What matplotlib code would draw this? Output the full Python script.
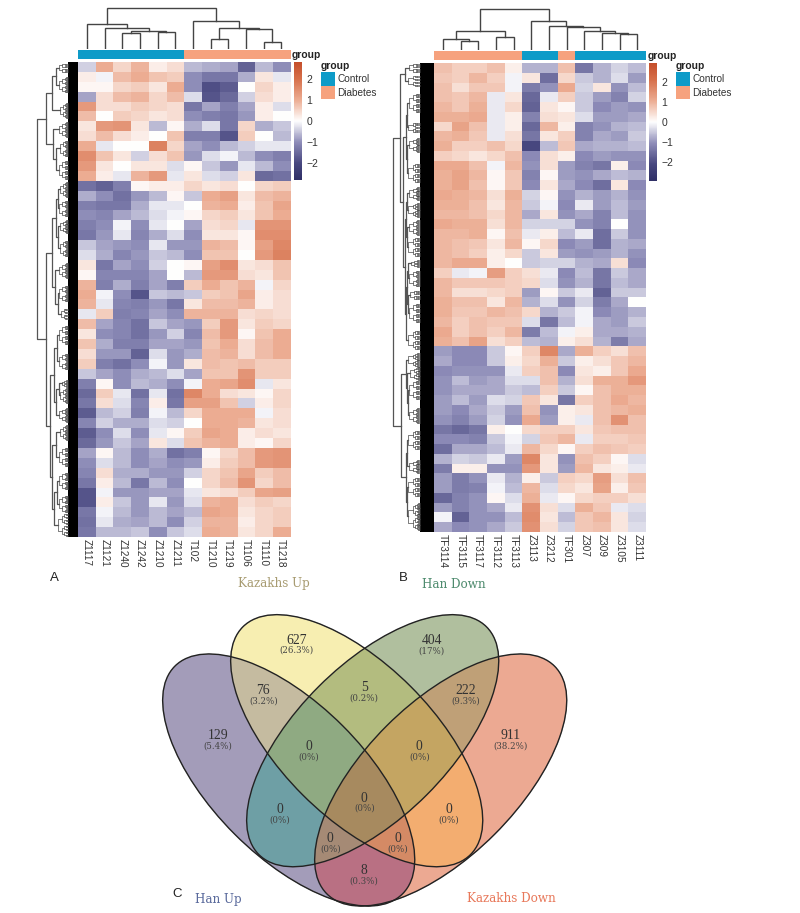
import numpy as np
import matplotlib
matplotlib.use('Agg')
from matplotlib import pyplot as plt
from matplotlib.colors import LinearSegmentedColormap, ListedColormap
from matplotlib.patches import Ellipse, Rectangle

W, H = 800, 913

samples_a = ['Z1117', 'Z1121', 'Z1240', 'Z1242', 'Z1210', 'Z1211',
             'T102', 'T1210', 'T1219', 'T1106', 'T1110', 'T1218']
samples_b = ['TF3114', 'TF3115', 'TF3117', 'TF3112', 'TF3113', 'Z3113',
             'Z3212', 'TF301', 'Z307', 'Z309', 'Z3105', 'Z3111']
# 0 = Control, 1 = Diabetes
groups_a = [0, 0, 0, 0, 0, 0, 1, 1, 1, 1, 1, 1]
groups_b = [1, 1, 1, 1, 1, 0, 0, 1, 0, 0, 0, 0]
group_names = ['Control', 'Diabetes']
group_colors = ['#0E9BC8', '#F6A27E']
cbar_ticks = [2, 1, 0, -1, -2]

heat_a = [
    [-0.4, 1.0, 0.5, 0.9, 0.2, 0.4, -0.6, -0.7, -0.8, -1.6, -0.6, -1.0],
    [0.2, -0.1, 0.8, 1.0, 0.7, 0.6, -1.0, -1.3, -1.3, -0.7, 0.3, -0.2],
    [0.1, 0.1, 0.5, 0.6, 0.3, 1.0, -1.0, -1.9, -1.7, 0.0, 0.5, 0.2],
    [-0.8, 0.4, 0.8, 0.9, 0.5, 0.8, -0.3, -1.8, -1.5, -0.4, 0.4, 0.2],
    [1.3, 0.4, 0.4, 0.6, 0.5, 0.4, -1.3, -0.8, -1.2, -0.8, 0.2, -0.3],
    [0.8, 0.0, 0.6, 0.5, 0.3, 0.4, -1.0, -1.2, -1.3, -0.9, 0.2, 0.0],
    [0.3, 1.3, 1.4, 0.3, -0.6, 0.1, -0.7, -0.3, -1.3, 0.5, -0.7, -0.5],
    [0.4, 0.8, 0.4, 0.2, 0.0, 0.7, -1.2, -1.2, -1.8, 0.6, 0.0, -0.6],
    [1.0, -0.2, 0.0, 0.0, 1.7, 0.5, -0.8, -1.0, -0.6, -0.4, -0.2, -0.2],
    [1.5, 0.7, 0.3, -0.4, 0.4, 0.7, -0.9, -0.3, -0.1, -0.6, -1.0, -1.2],
    [1.3, 0.3, 0.0, 0.3, 0.3, -0.3, 0.1, -0.5, -0.9, -0.2, -0.6, -1.0],
    [1.0, 0.2, -0.2, 0.9, 1.3, -0.2, 0.3, -0.3, -0.4, 0.3, -1.5, -1.4],
    [-1.4, -1.6, -1.2, 0.1, 0.2, 0.2, 0.5, 0.3, 0.4, 0.0, 0.5, 0.6],
    [-0.7, -1.0, -1.4, -0.9, -0.6, 0.1, -0.5, 1.0, 1.2, 0.3, 0.8, 0.9],
    [-1.2, -1.3, -1.3, -0.7, -0.2, -0.2, 0.0, 0.9, 1.0, 0.2, 0.7, 1.1],
    [-1.0, -1.1, -0.8, -0.6, -0.3, -0.1, 0.1, 0.5, 0.6, 0.3, 0.7, 1.0],
    [-1.2, -1.0, -0.1, -1.0, -0.2, 0.0, -0.8, 0.4, 0.5, -0.2, 1.4, 1.4],
    [-1.3, -0.9, -0.2, -1.1, -0.7, -0.3, -1.0, 0.3, 0.3, 0.1, 1.5, 1.5],
    [-0.5, -0.8, -0.9, -1.0, -0.2, -0.9, -0.9, 0.9, 0.8, 0.1, 1.2, 1.6],
    [-0.3, -0.7, -1.1, -0.9, -0.5, -0.6, -1.0, 0.7, 0.7, 0.0, 1.3, 1.7],
    [0.3, -1.3, -0.8, -1.0, -0.4, 0.0, 0.1, 1.2, 1.5, 0.3, 0.4, 0.7],
    [0.1, -1.1, -1.1, -1.1, -0.8, 0.0, -0.6, 1.3, 1.3, 0.4, 0.3, 0.7],
    [0.9, -1.2, -0.7, -1.2, -0.8, -1.2, 0.6, 1.0, 0.7, 0.9, -0.1, 0.5],
    [1.0, -0.1, -1.0, -1.8, -0.5, -0.6, -0.5, 0.6, 0.7, 1.1, 0.2, 0.4],
    [0.9, -0.2, -1.1, -1.2, -0.9, -1.3, 0.3, 0.8, 0.8, 0.9, 0.2, 0.4],
    [-0.2, 0.6, -1.2, -1.1, -0.8, -1.0, 0.9, 0.9, 0.9, 0.4, 0.5, 0.4],
    [0.8, -0.8, -1.1, -1.4, -0.5, -0.8, -0.9, 0.6, 1.3, 0.3, 0.6, 0.5],
    [0.3, -1.0, -1.1, -1.4, -0.9, -0.4, -1.1, 0.8, 1.3, 0.1, 0.7, 1.0],
    [0.7, -0.7, -1.2, -1.2, -0.8, -0.8, -0.9, 0.7, 1.0, 0.4, 0.8, 1.0],
    [0.4, -0.9, -0.9, -1.6, -0.3, -0.9, -0.7, 0.8, 0.9, 0.4, 0.8, 1.0],
    [0.6, -1.2, -1.4, -1.0, -0.1, -0.9, 0.3, 0.8, 0.7, 0.8, 0.6, 0.6],
    [-0.5, -0.8, -1.0, -0.7, -0.6, -0.3, -0.8, 0.7, 0.7, 1.4, 0.6, 0.6],
    [-1.2, 0.1, -1.0, -0.6, -0.7, -1.0, -0.1, 1.0, 1.1, 1.5, -0.2, 0.3],
    [-1.5, 0.6, -0.2, -1.4, -0.2, -1.4, 1.6, 1.0, 0.4, 0.3, 0.1, 0.5],
    [-1.3, 0.4, -0.3, -1.1, 0.2, -1.3, 1.2, 1.2, 0.7, -0.4, 0.2, 0.5],
    [-1.7, -0.6, -0.4, -1.2, -0.1, -0.6, 0.5, 1.0, 1.0, 1.0, -0.1, 0.4],
    [-1.1, -0.4, -0.7, -0.7, -0.3, -0.4, 0.0, 1.0, 1.0, 0.9, 0.3, 0.4],
    [-1.7, -1.0, -0.3, -1.0, -0.2, 0.1, 0.6, 1.1, 1.0, 0.2, 0.4, 0.3],
    [-1.5, -0.9, -0.5, -0.8, 0.3, -0.3, 0.7, 0.9, 1.0, 0.2, 0.1, 0.5],
    [-0.8, 0.1, -0.6, -1.0, -0.7, -1.4, -1.2, 0.1, 0.5, 0.8, 1.3, 1.4],
    [-1.0, -0.3, -0.6, -1.0, -0.8, -1.0, -0.9, 0.2, 0.6, 0.8, 1.3, 1.4],
    [-1.1, 0.4, -0.7, -0.7, -0.9, -0.9, -0.4, 0.5, 0.7, 1.1, 0.6, 0.8],
    [-1.3, 0.2, -0.6, -1.3, -0.6, -1.0, 0.0, 0.5, 0.8, 1.4, 0.5, 0.8],
    [-1.8, -0.1, -0.9, -0.9, -0.8, -0.8, -0.2, 0.3, 0.4, 0.6, 1.1, 1.2],
    [-1.8, 0.2, -0.5, -0.9, -0.2, -0.9, -0.3, 0.9, 1.0, 0.4, 0.6, 0.5],
    [-1.3, -0.1, -0.6, -0.9, -0.6, -0.8, -0.6, 1.1, 1.0, 0.3, 0.5, 0.6],
    [-1.4, -0.2, -0.7, -0.8, -0.6, -1.0, -0.4, 0.9, 0.9, 0.2, 0.5, 0.6],
    [-1.3, -0.6, -0.6, -0.5, -1.0, -0.5, -0.3, 1.0, 0.9, 0.3, 0.5, 1.0],
]

heat_b = [
    [0.8, 0.6, 0.6, 0.8, 0.2, -0.7, -0.7, 0.8, -1.4, -0.7, -0.4, -0.6],
    [0.7, 0.6, 0.9, 0.6, -0.1, 0.3, -1.5, 0.5, -0.5, -0.7, -0.3, -0.9],
    [0.8, 0.4, 0.7, 0.7, -0.1, -1.3, -1.0, 1.1, -0.4, 0.3, -1.0, -0.6],
    [0.8, 0.7, 0.9, -0.2, 0.3, -1.6, -0.2, 0.6, -0.5, -0.9, -1.2, -0.4],
    [0.9, 0.7, 1.0, -0.2, 0.5, -1.7, 0.3, 0.1, -0.5, -1.1, -0.9, -1.0],
    [1.0, 1.0, 1.1, -0.2, 0.2, -1.2, 0.4, 0.3, -0.3, -0.9, -0.9, -0.8],
    [0.5, 1.2, 0.8, -0.2, 0.2, -1.6, 0.9, 0.2, -1.2, -1.0, -0.7, -0.6],
    [0.9, 1.0, 0.7, -0.2, 0.4, -1.4, 0.3, 0.6, -1.2, -0.8, -0.9, -0.5],
    [1.0, 0.6, 0.6, 0.8, 0.5, -2.1, -0.6, 0.7, -0.8, -0.7, -0.7, -0.6],
    [0.6, 0.5, 0.3, 0.5, 0.8, -1.1, 0.4, 0.2, -1.1, -0.9, -1.0, -1.0],
    [1.1, 1.1, 0.8, -0.1, 0.9, -1.0, 0.4, -0.9, -1.2, -1.4, 0.2, -1.1],
    [1.0, 1.2, 0.9, 0.1, 0.7, -1.2, 0.1, -0.9, -1.0, -0.8, -0.6, -0.7],
    [1.0, 1.2, 0.8, 0.1, 0.7, -1.1, 0.3, -0.8, -1.1, -1.5, 0.3, -1.1],
    [1.1, 1.0, 0.9, 0.4, 1.0, -0.4, 0.1, -1.0, -0.7, -0.9, -0.7, -1.0],
    [1.0, 1.0, 0.8, 0.3, 0.9, -0.5, -0.1, -1.1, -0.2, -0.9, -0.6, -0.9],
    [0.9, 0.9, 0.8, 0.5, 0.9, -0.8, 0.3, -1.0, -0.8, -1.2, -0.6, -1.0],
    [1.1, 1.0, 1.0, 0.4, 0.9, -0.4, -0.4, -0.4, -1.0, -1.2, 0.0, -1.0],
    [0.9, 0.9, 1.0, 0.1, 0.8, -0.2, 0.2, -0.6, -0.2, -1.5, -0.5, -1.0],
    [0.9, 0.8, 0.7, 0.3, 0.9, 0.1, 0.5, -1.1, -0.9, -1.5, -0.7, -0.8],
    [0.9, 0.8, 0.6, 0.2, 0.5, -0.5, 0.3, -0.9, -1.0, -0.9, -0.7, -1.0],
    [0.9, 1.1, 1.1, 0.2, 0.0, -0.5, -0.4, -0.4, -0.7, -0.8, 0.4, -1.1],
    [0.6, -0.2, -0.1, 1.3, 0.6, 0.4, -0.2, -1.1, -0.6, -1.4, -0.5, -0.8],
    [0.9, 0.7, 0.7, 0.7, 0.6, 0.5, -0.3, -1.0, -0.7, -1.4, -0.6, -0.8],
    [0.9, 0.4, 0.4, 0.5, 0.6, -0.9, 0.1, -0.5, -0.2, -1.7, -0.5, -0.5],
    [1.0, 0.8, 0.8, 0.3, 0.9, -0.7, -0.3, -1.0, -0.4, -1.3, -0.8, 0.0],
    [1.0, 0.7, 0.7, 0.9, 0.8, 0.5, -0.7, -0.5, -0.1, -1.1, -0.9, -0.7],
    [0.9, 0.6, 0.8, 0.7, 0.7, -0.3, -1.4, -0.6, -0.1, -0.8, -0.9, -0.5],
    [1.1, 0.6, 0.8, 0.6, 0.9, -1.3, -0.6, -0.1, 0.2, -0.8, -0.8, -0.7],
    [1.0, 0.8, 1.2, 0.4, 0.6, -0.6, -0.7, 0.2, 0.4, -0.7, -1.3, -0.8],
    [-0.9, -1.1, -1.1, -0.5, 0.1, 0.6, 1.7, -0.8, 1.0, 0.6, 0.4, 0.8],
    [-0.8, -1.1, -1.1, -0.5, 0.2, 0.5, 1.0, -0.5, 0.2, 0.4, 0.7, 0.9],
    [-1.1, -1.0, -1.0, -1.0, -0.2, 0.6, 0.8, -1.1, 0.3, 0.2, 0.7, 1.1],
    [-1.0, -0.6, -0.9, -0.8, -0.3, -0.3, 0.8, -0.7, 0.4, 1.0, 1.0, 1.4],
    [-1.0, -0.8, -0.8, -0.8, -0.5, -0.6, 0.6, -0.5, 0.1, 0.8, 1.0, 1.0],
    [-0.9, -0.6, -0.9, -0.3, -0.4, 0.7, 0.3, -1.4, 0.6, 0.8, 1.1, 0.9],
    [-0.9, -1.1, -0.8, -0.5, -0.9, 0.8, -1.0, 0.2, 0.3, 0.8, 0.9, 1.0],
    [-1.0, -1.2, -0.9, -0.4, -1.0, 1.1, -0.9, 0.2, -0.2, 0.8, 1.5, 0.8],
    [-1.4, -1.6, -1.4, 0.2, 0.0, 0.5, 0.6, 0.6, 0.3, 0.7, 0.8, 0.8],
    [-1.1, -1.1, -1.2, -0.5, -0.1, -0.4, 0.7, 0.9, -0.2, 0.6, 0.6, 0.7],
    [-1.5, -0.8, -0.8, -0.6, -0.2, 0.9, 0.5, 0.1, 0.6, 0.8, 0.7, 0.6],
    [-0.7, -0.4, -0.5, -0.2, -0.9, 1.7, 0.3, -1.0, 0.8, 0.6, 0.1, -0.3],
    [-1.3, 0.2, 0.2, -1.0, -1.0, 1.4, 0.3, -0.9, 0.9, 0.3, 0.2, -0.2],
    [-0.9, -1.3, -1.0, -0.2, -0.7, 0.2, -0.5, 0.6, 0.5, 1.3, 0.4, 0.8],
    [-0.9, -1.3, -1.2, -0.1, -0.6, 0.9, -0.3, 0.5, 0.3, 1.2, 0.2, 0.7],
    [-1.6, -1.2, -1.0, 0.1, -0.3, 1.0, -0.2, 0.1, 0.5, 0.6, 0.6, 0.4],
    [-0.9, -1.2, -1.0, -0.8, -0.2, 1.5, 0.4, -0.3, 1.0, 0.7, -0.2, -0.3],
    [-0.1, -1.7, -1.0, -1.0, -0.6, 1.6, 0.3, -0.6, 0.7, 0.9, 0.3, -0.4],
    [-0.8, -1.1, -1.0, -0.8, -0.5, 1.5, 0.4, -0.4, 0.7, 0.8, 0.3, -0.3],
]

# column trees, [height, left, right], int = column index
col_tree_a = [41,
              [25, 0, [21, 1, [18, [16, 2, 3], [17, 4, 5]]]],
              [28, 6, [21, [10, 7, 8], [20, 9, [7, 10, 11]]]]]
col_tree_b = [41,
              [19, [11, 0, [9, 1, 2]], [13, 3, 4]],
              [29, 5, [23.5, 6, [23, 7, [19, 8, [17, 9, [16, 10, 11]]]]]]]

# row trees, [height, upper, lower], tuple = tuft of rows (first, last, height)
row_tree_a = [41,
              [32,
               [26, [22, (1, 11, 19), (15, 31, 19)], (41, 56, 18)],
               [25, (60, 75, 19), [22, (78, 95, 18), (98, 118, 19)]]],
              [32,
               [26,
                [22, [20, (120, 135, 18), (138, 155, 19)], [20, (158, 171, 18), (178, 195, 18)]],
                [23, (201, 216, 19), [20, (223, 240, 19), (246, 258, 17)]]],
               [28,
                [24, [21, (263, 283, 19), (291, 308, 19)], [22, [19, (318, 325, 16), (326, 341, 18)], (346, 360, 19)]],
                [26, [22, (363, 378, 18), (385, 405, 19)], [24, [21, (410, 428, 19), (433, 451, 19)], (451, 475, 20)]]]]]
row_tree_b = [41,
              [34,
               [29, (0, 10, 25), (12, 24, 26)],
               [31,
                [28, [27, (30, 50, 25), (59, 70, 26)], [27, (75, 89, 25), (100, 120, 26)]],
                [29,
                 [28, [27, (124, 137, 25), (140, 154, 26)], [27, (157, 172, 25), (174, 194, 26)]],
                 [28, [27, [26, (197, 204, 23), (207, 224, 25)], [26, (227, 237, 24), (240, 260, 25)]], (267, 287, 26)]]]],
              [33,
               [28, (290, 304, 26), [27, (304, 317, 24), [26, (317, 337, 25), (345, 360, 25)]]],
               [28, [27, (367, 387, 26), (397, 410, 25)], [27, (414, 434, 26), (440, 467, 26)]]]]

venn_names = ['Kazakhs Up', 'Han Down', 'Han Up', 'Kazakhs Down']
venn_counts = ['627', '404', '76', '5', '222', '129', '911', '0', '0', '0', '0', '0', '0', '0', '8']
venn_pcts = ['(26.3%)', '(17%)', '(3.2%)', '(0.2%)', '(9.3%)', '(5.4%)', '(38.2%)', '(0%)', '(0%)',
             '(0%)', '(0%)', '(0%)', '(0%)', '(0%)', '(0.3%)']
venn_x = [296.7, 431.7, 263.3, 364.3, 465.7, 218, 510.7, 309, 419.3, 364.3, 279.7, 448.7, 330.3, 398, 364.3]
venn_y = [640, 640.7, 690.7, 687.3, 690.7, 735.7, 735.7, 747, 747, 798, 809.3, 809.3, 838.3, 838.3, 871]

# ellipses of the venn in pixels: Han Up, Kazakhs Up, Han Down, Kazakhs Down
ell_cx = [288.7, 356.7, 372.7, 440.7]
ell_cy = [780, 740.7, 740.7, 780]
ell_angle = [45, 45, -45, -45]
ELL_A, ELL_B = 161, 76.5

# colour of each overlap, key = (P, Y, G, R) membership
region_colors = {
    (1, 0, 0, 0): '#A39DB9', (0, 1, 0, 0): '#F7EEB2', (0, 0, 1, 0): '#B0BF9E', (0, 0, 0, 1): '#EDA993',
    (1, 1, 0, 0): '#C6BBA0', (0, 1, 1, 0): '#B3BC7F', (0, 0, 1, 1): '#BFA077', (1, 0, 1, 0): '#6E9FA6',
    (0, 1, 0, 1): '#F3AD70', (1, 0, 0, 1): '#BA7083', (1, 1, 1, 0): '#8FAB82', (0, 1, 1, 1): '#C4A663',
    (1, 0, 1, 1): '#A58A75', (1, 1, 0, 1): '#D48A66', (1, 1, 1, 1): '#A88A60',
}

cmap = LinearSegmentedColormap.from_list('heat', [
    (0.0, '#2F2F66'), (0.14, '#47477F'), (0.32, '#8E8CB8'), (0.5, '#FFFFFF'),
    (0.68, '#ECAC92'), (0.86, '#D66F4A'), (1.0, '#C44E2B')])


def px_axes(fig, x0, y0, x1, y1):
    return fig.add_axes([x0 / W, 1 - y1 / H, (x1 - x0) / W, (y1 - y0) / H])


def draw_col_tree(ax, node):
    if isinstance(node, int):
        return node + 0.5, 0
    h, a, b = node
    xa, ha = draw_col_tree(ax, a)
    xb, hb = draw_col_tree(ax, b)
    ax.plot([xa, xa, xb, xb], [ha, h, h, hb], color='#444444', lw=1.0, solid_joinstyle='miter')
    return (xa + xb) / 2, h


def draw_tuft(ax, y0, y1, h, band):
    # fine branches: halve the rows until single hairs run into the black band
    if y1 - y0 < 1.6:
        y = (y0 + y1) / 2
        ax.plot([h, band], [y, y], color='#4a4a4a', lw=0.45)
        return y
    mid = (y0 + y1) / 2
    child = band + (h - band) * 0.62
    ya = draw_tuft(ax, y0, mid, child, band)
    yb = draw_tuft(ax, mid, y1, child, band)
    ax.plot([child, h, h, child], [ya, ya, yb, yb], color='#4a4a4a', lw=0.5)
    return (ya + yb) / 2


def draw_row_tree(ax, node, band):
    if isinstance(node, tuple):
        y0, y1, h = node
        return draw_tuft(ax, y0, y1, h, band), h
    h, a, b = node
    ya, ha = draw_row_tree(ax, a, band)
    yb, hb = draw_row_tree(ax, b, band)
    ax.plot([ha, h, h, hb], [ya, ya, yb, yb], color='#555555', lw=0.9)
    return (ya + yb) / 2, h


def draw_heatmap(fig, data, samples, groups, col_tree, row_tree, x0, x1, y0, y1, band, root_x,
                 bar_y0, bar_y1, top_y0, cbar_lim, cbar_x0, cbar_bottom, legend_x):
    data = np.array(data)
    ax = px_axes(fig, x0, y0, x1, y1)
    im = ax.imshow(data, aspect='auto', cmap=cmap, vmin=-cbar_lim, vmax=cbar_lim, interpolation='nearest')
    ax.set_yticks([])
    ax.set_xticks(range(len(samples)))
    ax.set_xticklabels(samples, rotation=270, fontsize=7.2, color='#333333', family='Liberation Sans')
    ax.tick_params(axis='x', length=0, pad=1.5)
    for s in ax.spines.values():
        s.set_visible(False)

    ann = px_axes(fig, x0, bar_y0, x1, bar_y1)
    ann.imshow([groups], aspect='auto', cmap=ListedColormap(group_colors), vmin=0, vmax=1, interpolation='nearest')
    ann.axis('off')

    top = px_axes(fig, x0, top_y0, x1, bar_y0 - 1)
    draw_col_tree(top, col_tree)
    top.set_xlim(0, len(samples))
    top.set_ylim(0, bar_y0 - 1 - top_y0)
    top.axis('off')

    left = px_axes(fig, root_x, y0, x0, y1)
    n_rows = y1 - y0
    left.fill_betweenx([0, n_rows], 0, band, color='black', lw=0)
    draw_row_tree(left, row_tree, band)
    left.set_xlim(x0 - root_x, 0)
    left.set_ylim(n_rows, 0)
    left.axis('off')

    cax = px_axes(fig, cbar_x0, y0, cbar_x0 + 8, cbar_bottom)
    cb = fig.colorbar(im, cax=cax)
    cb.set_ticks(cbar_ticks)
    cb.outline.set_visible(False)
    cax.tick_params(length=0, labelsize=7.5, labelcolor='#333333', pad=3)
    for t in cax.get_yticklabels():
        t.set_family('Liberation Sans')

    fig.text((x1 + 2) / W, 1 - (bar_y0 + 5) / H, 'group', fontsize=7.4, fontweight='bold', va='center',
             family='Liberation Sans', color='#222222')
    fig.text(legend_x / W, 1 - 66 / H, 'group', fontsize=7.4, fontweight='bold', va='center',
             family='Liberation Sans', color='#222222')
    for i, name in enumerate(group_names):
        y_top = 72.5 + 13.5 * i
        fig.patches.append(Rectangle((legend_x / W, 1 - (y_top + 13.5) / H), 14 / W, 13.5 / H,
                                     transform=fig.transFigure, figure=fig, color=group_colors[i], lw=0))
        fig.text((legend_x + 16.5) / W, 1 - (y_top + 6.8) / H, name, fontsize=7.2, va='center',
                 family='Liberation Sans', color='#333333')


fig = plt.figure(figsize=(W / 100, H / 100), dpi=100)

draw_heatmap(fig, heat_a, samples_a, groups_a, col_tree_a, row_tree_a, 78, 290, 62, 537, 10, 36,
             50, 59, 7, 2.8, 294, 180, 321)
draw_heatmap(fig, heat_b, samples_b, groups_b, col_tree_b, row_tree_b, 434, 646, 63, 532, 14, 392,
             51, 60, 8, 2.95, 649, 181, 676)

# venn and the free labels, in pixel coordinates
ov = fig.add_axes([0, 0, 1, 1], zorder=5)
ov.patch.set_alpha(0)
xs = np.arange(130, 590, 0.25)
ys = np.arange(600, 913, 0.25)
gx, gy = np.meshgrid(xs, ys)
inside = []
for cx, cy, ang in zip(ell_cx, ell_cy, ell_angle):
    t = np.deg2rad(ang)
    dx, dy = gx - cx, gy - cy
    u = dx * np.cos(t) + dy * np.sin(t)
    v = -dx * np.sin(t) + dy * np.cos(t)
    inside.append((u / ELL_A) ** 2 + (v / ELL_B) ** 2 <= 1)
rgba = np.zeros(gx.shape + (4,))
for key, col in region_colors.items():
    mask = np.ones(gx.shape, dtype=bool)
    for m, flag in zip(inside, key):
        mask &= m if flag else ~m
    rgba[mask] = matplotlib.colors.to_rgba(col)
ov.imshow(rgba, extent=(xs[0], xs[-1], ys[-1], ys[0]), aspect='auto', interpolation='bilinear')
for cx, cy, ang in zip(ell_cx, ell_cy, ell_angle):
    ov.add_patch(Ellipse((cx, cy), 2 * ELL_A, 2 * ELL_B, angle=ang, fill=False, ec='#222222', lw=1.0))

for c, p, x, y in zip(venn_counts, venn_pcts, venn_x, venn_y):
    ov.text(x, y, c, ha='center', va='center', fontsize=9.8, family='Liberation Serif', color='#333333')
    ov.text(x, y + 10.3, p, ha='center', va='center', fontsize=6.2, family='DejaVu Serif', color='#444444')

ov.text(274, 584, venn_names[0], ha='center', va='center', fontsize=8.6, family='DejaVu Serif', color='#A89C72')
ov.text(454, 584, venn_names[1], ha='center', va='center', fontsize=8.6, family='DejaVu Serif', color='#4E8B6E')
ov.text(218, 899, venn_names[2], ha='center', va='center', fontsize=8.6, family='DejaVu Serif', color='#5A6A9C')
ov.text(511, 899, venn_names[3], ha='center', va='center', fontsize=8.6, family='DejaVu Serif', color='#E8785A')
for lab, x, y in [('A', 54, 578), ('B', 403, 578), ('C', 177, 894)]:
    ov.text(x, y, lab, ha='center', va='center', fontsize=9.5, family='Liberation Sans', color='#222222')
ov.set_xlim(0, W)
ov.set_ylim(H, 0)
ov.axis('off')

fig.savefig('out.png', dpi=100)
plt.close()
